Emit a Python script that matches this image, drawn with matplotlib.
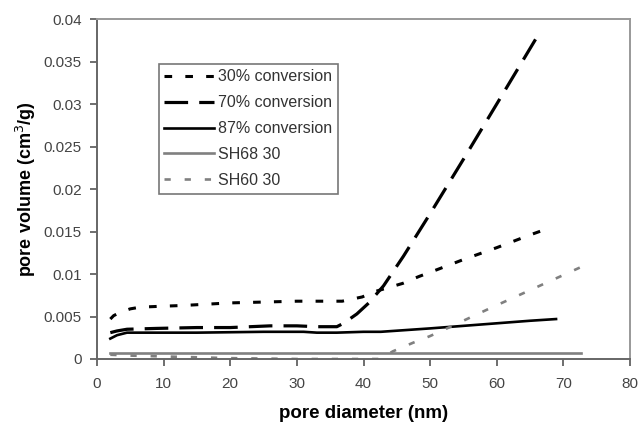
import matplotlib
matplotlib.use("Agg")
import matplotlib.pyplot as plt

plt.rcParams['font.family'] = ['Liberation Sans', 'DejaVu Sans']
plt.rcParams['lines.scale_dashes'] = False

# pore diameter (nm) and pore volume (cm3/g) for each sample
x_30 = [2, 2.5, 3.5, 5, 6.5, 9.5, 13, 20, 30, 36.8, 38, 39.8, 42, 45.9, 48.3, 50, 55, 60, 65, 67.5]
y_30 = [0.0047, 0.0051, 0.0055, 0.0059, 0.0061, 0.0062, 0.0063, 0.0066, 0.0068, 0.0068,
        0.0070, 0.0073, 0.0080, 0.0089, 0.0097, 0.0102, 0.0117, 0.0131, 0.0146, 0.0153]

x_70 = [2, 3, 4.5, 9, 15, 20, 26, 30, 33, 36, 37, 39, 40.8, 43, 46, 50, 55, 60, 66.2]
y_70 = [0.0031, 0.0033, 0.0035, 0.0036, 0.0037, 0.0037, 0.0039, 0.0039, 0.0038, 0.0038,
        0.0042, 0.0053, 0.0066, 0.0086, 0.0121, 0.0171, 0.0235, 0.0300, 0.0381]

x_87 = [2, 3, 4.5, 8, 15, 25, 31, 33, 36, 40, 42.6, 50, 55, 60, 65, 68.9]
y_87 = [0.0024, 0.0028, 0.0031, 0.0031, 0.0031, 0.0032, 0.0032, 0.0031, 0.0031, 0.0032,
        0.0032, 0.0036, 0.0039, 0.0042, 0.0045, 0.0047]

x_sh68 = [2, 10, 20, 30, 40, 50, 60, 72.7]
y_sh68 = [0.0007, 0.0007, 0.0007, 0.0007, 0.0007, 0.0007, 0.0007, 0.0007]

x_sh60 = [2, 5, 10, 15, 20, 25, 30, 35, 40, 42.5, 44.4, 47.4, 50, 52.8, 55.8, 58.8, 65, 74]
y_sh60 = [0.0005, 0.0004, 0.0003, 0.0002, 0.0001, 0.00005, 0.0, 0.0, 0.0, 0.0, 0.0009,
          0.0019, 0.0027, 0.0037, 0.0048, 0.0059, 0.0081, 0.0113]

labels = ["30% conversion", "70% conversion", "87% conversion", "SH68 30", "SH60 30"]

fig = plt.figure(figsize=(6.4, 4.26), dpi=100)
ax = fig.add_axes([97 / 640, 67 / 426, 533 / 640, 340 / 426])

ax.plot(x_30, y_30, color="black", lw=2.2, dashes=(5.5, 9.5), label=labels[0])
ax.plot(x_70, y_70, color="black", lw=2.3, dashes=(17, 8), label=labels[1])
ax.plot(x_87, y_87, color="black", lw=1.9, label=labels[2])
ax.plot(x_sh68, y_sh68, color="#808080", lw=1.9, label=labels[3])
ax.plot(x_sh60, y_sh60, color="#808080", lw=1.9, dashes=(4.5, 10), label=labels[4])

ax.set_xlim(0, 80)
ax.set_ylim(0, 0.04)
ax.set_xticks(range(0, 81, 10))
ax.set_yticks([0, 0.005, 0.01, 0.015, 0.02, 0.025, 0.03, 0.035, 0.04])
ax.set_yticklabels(["0", "0.005", "0.01", "0.015", "0.02", "0.025", "0.03", "0.035", "0.04"])

ax.tick_params(axis="both", direction="out", length=5, width=1.2, color="#555555",
               labelsize=11, labelcolor="#444444", pad=6)
ax.tick_params(axis="x", pad=8)

for side in ("left", "bottom"):
    ax.spines[side].set_color("#666666")
    ax.spines[side].set_linewidth(1.4)
for side in ("top", "right"):
    ax.spines[side].set_color("#999999")
    ax.spines[side].set_linewidth(1.4)

ax.set_xlabel("pore diameter (nm)", fontsize=13.5, fontweight="bold", labelpad=10)
ax.set_ylabel("pore volume (cm$^3$/g)", fontsize=13, fontweight="bold", labelpad=4)

leg = ax.legend(loc="upper left", bbox_to_anchor=(0.116, 0.868), borderaxespad=0,
                fontsize=11.5, frameon=True, fancybox=False, handlelength=3.1,
                handletextpad=0.25, borderpad=0.35, labelspacing=0.68)
leg.get_frame().set_edgecolor("#555555")
leg.get_frame().set_linewidth(1.2)
for t in leg.get_texts():
    t.set_color("#333333")

fig.savefig("out.png", dpi=100)
